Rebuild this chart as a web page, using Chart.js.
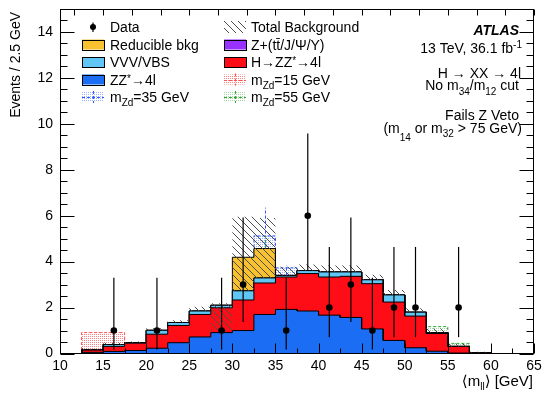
<!DOCTYPE html>
<html><head><meta charset="utf-8">
<script src="https://cdn.jsdelivr.net/npm/chart.js@4.4.0/dist/chart.umd.min.js"></script>
<style>html,body{margin:0;padding:0;background:#fff;}canvas{display:block;}</style>
</head><body>
<canvas id="c" width="547" height="395"></canvas>
<script>
// ---------- data ----------
const binLow = [10, 12.5, 15, 17.5, 20, 22.5, 25, 27.5, 30, 32.5, 35, 37.5, 40, 42.5, 45, 47.5, 50, 52.5, 55, 57.5, 60, 62.5];
const binWidth = 2.5;
const zzBkg        = [0, 0.05, 0.09, 0.13, 0.23, 0.47, 0.72, 0.91, 1.00, 1.70, 1.92, 1.85, 1.67, 1.57, 1.07, 0.57, 0.25, 0.10, 0.02, 0, 0, 0];
const higgsBkg     = [0, 0.10, 0.22, 0.32, 0.61, 0.75, 0.98, 1.08, 1.33, 1.37, 1.41, 1.63, 1.66, 1.79, 1.97, 1.67, 1.38, 0.77, 0.29, 0.04, 0, 0];
const vvvBkg       = [0, 0.01, 0.08, 0.02, 0.17, 0.13, 0.15, 0.11, 0.40, 0.22, 0.07, 0.13, 0.22, 0.19, 0.17, 0.31, 0.17, 0.04, 0, 0, 0, 0];
const zPlusBkg     = [0, 0, 0, 0, 0, 0, 0, 0, 0, 0, 0, 0, 0, 0, 0, 0, 0, 0, 0, 0, 0, 0];
const reducibleBkg = [0, 0, 0, 0, 0, 0, 0, 0, 1.46, 1.28, 0, 0, 0, 0, 0, 0, 0, 0, 0, 0, 0, 0];
const bandHigh     = [0, 0.20, 0.47, 0.52, 1.10, 1.45, 2.04, 2.19, 5.95, 5.90, 3.78, 3.87, 3.83, 3.83, 3.43, 2.77, 1.97, 1.09, 0.43, 0.08, 0, 0];
const bandLow      = [0, 0.16, 0.39, 0.47, 1.01, 1.35, 1.85, 0.98, 2.73, 3.29, 3.40, 3.61, 3.55, 3.55, 3.21, 2.55, 1.80, 0.91, 0.31, 0.04, 0, 0];
const signal15     = [0, 0.91, 0.91, 0, 0, 0, 0, 0, 0, 0, 0, 0, 0, 0, 0, 0, 0, 0, 0, 0, 0, 0];
const signal35     = [0, 0, 0, 0, 0, 0, 0, 0, 0, 5.12, 3.73, 0, 0, 0, 0, 0, 0, 0, 0, 0, 0, 0];
const signal55     = [0, 0, 0, 0, 0, 0, 0, 0, 0, 0, 0, 0, 0, 0, 0, 0, 0, 1.17, 0.44, 0, 0, 0];
const sig35ErrX = [33.75, 36.25], sig35ErrLow = [4.57, 3.40], sig35ErrHigh = [6.35, 3.85];
const sig55ErrX = [33.75], sig55ErrLow = [4.60], sig55ErrHigh = [5.12];
const dataX     = [16.25, 21.25, 28.75, 31.25, 36.25, 38.75, 41.25, 43.75, 46.25, 48.75, 51.25, 56.25];
const dataY     = [1, 1, 1, 3, 1, 6, 2, 3, 1, 2, 2, 2];
const dataLow   = [0.17, 0.17, 0.17, 1.37, 0.17, 3.62, 0.71, 1.37, 0.17, 0.71, 0.71, 0.71];
const dataHigh  = [3.30, 3.30, 3.30, 5.92, 3.30, 9.58, 4.64, 5.92, 3.30, 4.64, 4.64, 4.64];
const xTickStep = 5, yTickStep = 2;

// ---------- helpers ----------
const FONT = "'Liberation Sans', Arial, 'DejaVu Sans', sans-serif";
const FS = 14;
function steps(vals){const p=[];vals.forEach((v,i)=>{p.push({x:binLow[i],y:v});p.push({x:binLow[i]+binWidth,y:v});});return p;}
function addArr(a,b){return a.map((v,i)=>v+b[i]);}
const cumZZ = zzBkg.slice();
const cumH = addArr(cumZZ, higgsBkg);
const cumVVV = addArr(cumH, vvvBkg);
const cumZp = addArr(cumVVV, zPlusBkg);
const cumRed = addArr(cumZp, reducibleBkg);

function hatch(color, s, lw){
  const c=document.createElement('canvas');c.width=c.height=s;const g=c.getContext('2d');
  g.strokeStyle=color;g.lineWidth=lw;g.beginPath();
  for(const k of [-s,0,s]){g.moveTo(k,0);g.lineTo(k+s,s);}
  g.stroke();return g.createPattern(c,'repeat');
}
function dots(color){
  const c=document.createElement('canvas');c.width=c.height=2;const g=c.getContext('2d');
  g.fillStyle=color;g.fillRect(0,0,1,1);return g.createPattern(c,'repeat');
}
const hatchPat = hatch('#4d4d4d', 7, 1);
const pink = dots('#ff8080'), bluedot = dots('#9fb4ff'), greendot = dots('#a6d8a6');
const C = {zz:'#1b6ef3', h:'#ff0d17', vvv:'#5fc6f6', zp:'#9932ff', red:'#f8c130'};

const stackDs = (vals, col, order) => ({data:steps(vals), borderColor:'#000', borderWidth:1, backgroundColor:col, fill:'origin', order, pointRadius:0});
const sigDs = (vals, col, pat) => ({data:steps(vals), borderColor:col, borderWidth:1, borderDash:[3,2], backgroundColor:pat, fill:'origin', order:10, pointRadius:0});

const datasets = [
  sigDs(signal15, '#ff5050', pink),
  sigDs(signal35, '#3355ff', bluedot),
  sigDs(signal55, '#33aa33', greendot),
  stackDs(cumRed, C.red, 9),
  stackDs(cumZp, C.zp, 8.8),
  stackDs(cumVVV, C.vvv, 8.6),
  stackDs(cumH, C.h, 8.4),
  stackDs(cumZZ, C.zz, 8.2),
  {data:steps(bandHigh), borderWidth:0, borderColor:'transparent', backgroundColor:hatchPat, fill:{target:9}, order:2, pointRadius:0},
  {data:steps(bandLow), borderWidth:0, borderColor:'transparent', fill:false, order:2.5, pointRadius:0},
  {data:dataX.map((x,i)=>({x, y:dataY[i]})), showLine:false, pointRadius:3.3, pointBackgroundColor:'#000', pointBorderWidth:0, order:0}
];

function rich(ctx, segs, rightX, baseline){
  let w=0;
  segs.forEach(s=>{ctx.font=(s.f||'')+' '+(s.size||FS)+'px '+FONT; s.w=ctx.measureText(s.t).width; w+=s.w;});
  let x = rightX - w;
  segs.forEach(s=>{ctx.font=(s.f||'')+' '+(s.size||FS)+'px '+FONT; ctx.fillText(s.t, x, baseline+(s.dy||0)); x+=s.w;});
}
function richL(ctx, segs, x, baseline){
  segs.forEach(s=>{ctx.font=(s.f||'')+' '+(s.size||FS)+'px '+FONT; ctx.fillText(s.t, x, baseline+(s.dy||0)); x+=ctx.measureText(s.t).width;});
}

const decor = {
  id:'decor',
  afterDatasetsDraw(chart){
    const ctx=chart.ctx, a=chart.chartArea, xs=chart.scales.x, ys=chart.scales.y;
    ctx.save();
    ctx.lineWidth=1; ctx.setLineDash([3,2]);
    ctx.strokeStyle='#3355ff';
    sig35ErrX.forEach((x,i)=>{const px=Math.round(xs.getPixelForValue(x))+0.5;ctx.beginPath();ctx.moveTo(px,ys.getPixelForValue(sig35ErrLow[i]));ctx.lineTo(px,ys.getPixelForValue(sig35ErrHigh[i]));ctx.stroke();});
    ctx.strokeStyle='#33aa33';
    sig55ErrX.forEach((x,i)=>{const px=Math.round(xs.getPixelForValue(x))+0.5;ctx.beginPath();ctx.moveTo(px,ys.getPixelForValue(sig55ErrLow[i]));ctx.lineTo(px,ys.getPixelForValue(sig55ErrHigh[i]));ctx.stroke();});
    ctx.setLineDash([]);
    ctx.strokeStyle='#000'; ctx.lineWidth=1;
    const L=Math.round(a.left)+0.5, R=Math.round(a.right)-0.5, T=Math.round(a.top)+0.5, B=Math.round(a.bottom)-0.5;
    ctx.beginPath();
    for(let v=0; v<=15+1e-9; v+=0.5){
      const py=Math.round(ys.getPixelForValue(v))+0.5; const len=(Math.abs(v%yTickStep)<1e-9)?14:7;
      ctx.moveTo(L,py);ctx.lineTo(L+len,py);ctx.moveTo(R,py);ctx.lineTo(R-len,py);
    }
    for(let v=10; v<=65+1e-9; v+=2.5){
      const px=Math.round(xs.getPixelForValue(v))+0.5; const len=(Math.abs(v%xTickStep)<1e-9)?10:5;
      ctx.moveTo(px,B);ctx.lineTo(px,B-len);
    }
    for(let v=35/3; v<=65+1e-9; v+=10/3){
      const px=Math.round(xs.getPixelForValue(v))+0.5;
      ctx.moveTo(px,T);ctx.lineTo(px,T+6);
    }
    ctx.stroke();
    ctx.strokeRect(L,T,R-L,B-T);
    ctx.lineWidth=1.2;
    dataX.forEach((x,i)=>{const px=xs.getPixelForValue(x);ctx.beginPath();ctx.moveTo(px,ys.getPixelForValue(dataLow[i]));ctx.lineTo(px,ys.getPixelForValue(dataHigh[i]));ctx.stroke();});
    ctx.restore();
  },
  afterDraw(chart){
    const ctx=chart.ctx; ctx.save(); ctx.fillStyle='#000'; ctx.textBaseline='alphabetic';
    ctx.save(); ctx.translate(16,12); ctx.rotate(-Math.PI/2); ctx.textAlign='right'; ctx.textBaseline='middle';
    ctx.font=FS+'px '+FONT; ctx.fillText('Events / 2.5 GeV',0,0); ctx.restore();
    ctx.textAlign='left';
    rich(ctx,[{t:'\u27E8m',size:15},{t:'ll',size:10,dy:4},{t:'\u27E9 [GeV]',size:15}],533,386);
    const rows=[27,44.5,62,79.5,97];
    const c1=82, c2=224, bw=22, bh=10;
    function box(x,y,fill){ctx.fillStyle=fill;ctx.fillRect(x,y-bh/2,bw,bh);ctx.strokeStyle='#000';ctx.lineWidth=1;ctx.strokeRect(x+0.5,Math.round(y-bh/2)+0.5,bw,bh);}
    function sigBox(x,y,pat,col){ctx.fillStyle=pat;ctx.fillRect(x,y-bh/2,bw,bh);ctx.strokeStyle=col;ctx.lineWidth=1;ctx.setLineDash([3,2]);
      ctx.beginPath();ctx.moveTo(x,Math.round(y)+0.5);ctx.lineTo(x+bw,Math.round(y)+0.5);ctx.moveTo(x+bw/2+0.5,y-bh/2-1);ctx.lineTo(x+bw/2+0.5,y+bh/2+1);ctx.stroke();ctx.setLineDash([]);}
    ctx.strokeStyle='#000';ctx.lineWidth=1.2;ctx.beginPath();ctx.moveTo(93,22.5);ctx.lineTo(93,32);ctx.stroke();
    ctx.fillStyle='#000';ctx.beginPath();ctx.arc(93,27,3,0,Math.PI*2);ctx.fill();
    box(c1,rows[1],C.red); box(c1,rows[2],C.vvv); box(c1,rows[3],C.zz);
    sigBox(c1,rows[4],bluedot,'#3355ff');
    ctx.fillStyle=hatchPat; ctx.fillRect(c2,rows[0]-6,bw,12);
    box(c2,rows[1],C.zp); box(c2,rows[2],C.h);
    sigBox(c2,rows[3],pink,'#ff5050'); sigBox(c2,rows[4],greendot,'#33aa33');
    ctx.fillStyle='#000';
    const tx1=110, tx2=251, off=5;
    richL(ctx,[{t:'Data'}],tx1,rows[0]+off);
    richL(ctx,[{t:'Reducible bkg'}],tx1,rows[1]+off);
    richL(ctx,[{t:'VVV/VBS'}],tx1,rows[2]+off);
    richL(ctx,[{t:'ZZ'},{t:'*',size:10,dy:-3},{t:'\u21924l'}],tx1,rows[3]+off);
    richL(ctx,[{t:'m'},{t:'Zd',size:10,dy:4},{t:'=35 GeV'}],tx1,rows[4]+off);
    richL(ctx,[{t:'Total Background'}],tx2,rows[0]+off);
    richL(ctx,[{t:'Z+(t'},{t:'t\u0304'},{t:'/J/\u03A8/\u03A5)'}],tx2,rows[1]+off);
    richL(ctx,[{t:'H\u2192ZZ'},{t:'*',size:10,dy:-3},{t:'\u21924l'}],tx2,rows[2]+off);
    richL(ctx,[{t:'m'},{t:'Zd',size:10,dy:4},{t:'=15 GeV'}],tx2,rows[3]+off);
    richL(ctx,[{t:'m'},{t:'Zd',size:10,dy:4},{t:'=55 GeV'}],tx2,rows[4]+off);
    rich(ctx,[{t:'ATLAS',f:'italic bold'}],519,35);
    rich(ctx,[{t:'13 TeV, 36.1 fb'},{t:'-1',size:10,dy:-5}],522,53);
    rich(ctx,[{t:'H \u2192 XX \u2192 4l'}],521,77.5);
    rich(ctx,[{t:'No m'},{t:'34',size:10,dy:5},{t:'/m'},{t:'12',size:10,dy:5},{t:' cut'}],519,89.5);
    rich(ctx,[{t:'Fails Z Veto'}],519,120);
    rich(ctx,[{t:'(m'},{t:'14',size:10,dy:8},{t:' or m'},{t:'32',size:10,dy:4},{t:' > 75 GeV)'}],522,132.5);
    ctx.restore();
  }
};

new Chart(document.getElementById('c'), {
  type:'line',
  data:{datasets},
  options:{
    responsive:false, animation:false, devicePixelRatio:1,
    layout:{padding:{top:9, right:13, left:0, bottom:0}},
    plugins:{legend:{display:false}, tooltip:{enabled:false}},
    elements:{line:{tension:0}},
    scales:{
      x:{type:'linear', min:10, max:65, grid:{display:false, drawTicks:false}, border:{display:false},
         ticks:{stepSize:xTickStep, padding:4, color:'#000', autoSkip:false, maxRotation:0, includeBounds:false, font:{family:FONT, size:FS}},
         afterFit(s){s.height=41.5; s.paddingLeft=0; s.paddingRight=0;}},
      y:{type:'linear', min:0, max:15, grid:{display:false, drawTicks:false}, border:{display:false},
         ticks:{stepSize:yTickStep, padding:7, color:'#000', includeBounds:false, font:{family:FONT, size:FS}},
         afterFit(s){s.width=60; s.paddingTop=0; s.paddingBottom=0;}}
    }
  },
  plugins:[decor]
});
</script>
</body></html>
